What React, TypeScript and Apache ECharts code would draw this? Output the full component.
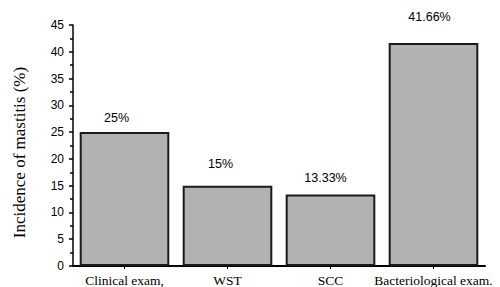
import React, { useEffect, useRef } from "react";
import * as echarts from "echarts";

const categories = ["Clinical exam,", "WST", "SCC", "Bacteriological exam."];
const values = [25, 15, 13.33, 41.66];
const valueLabels = ["25%", "15%", "13.33%", "41.66%"];
const yAxisTitle = "Incidence of mastitis (%)";
const yMin = 0;
const yMax = 45;
const yInterval = 5;

// label placement tweaks (style only)
const labelDistances = [8, 15, 10, 19];
const labelShiftX = [-8, -7, -5, -4];

const SERIF = "'Liberation Serif', 'Times New Roman', serif";
const SANS = "'Liberation Sans', Arial, sans-serif";

export default function App() {
  const ref = useRef<HTMLDivElement>(null);
  useEffect(() => {
    if (!ref.current) return;
    const chart = echarts.init(ref.current, undefined, { renderer: "svg" });
    chart.setOption({
      animation: false,
      backgroundColor: "#ffffff",
      grid: { left: 73, right: 15, top: 25, bottom: 18, containLabel: false },
      xAxis: {
        type: "category",
        data: categories,
        axisLine: { show: true, lineStyle: { color: "#000", width: 2 } },
        axisTick: { show: true, alignWithLabel: true, length: 3, lineStyle: { color: "#000" } },
        axisLabel: {
          color: "#000",
          fontFamily: SERIF,
          fontSize: 13.5,
          margin: 7,
          interval: 0,
        },
      },
      yAxis: {
        type: "value",
        min: yMin,
        max: yMax,
        interval: yInterval,
        name: yAxisTitle,
        nameLocation: "middle",
        nameGap: 45,
        nameTextStyle: {
          color: "#000",
          fontFamily: SERIF,
          fontSize: 17,
          padding: [0, 14, 0, 0],
        },
        axisLine: { show: true, lineStyle: { color: "#000", width: 1.5 } },
        axisTick: { show: true, length: 4, lineStyle: { color: "#000", width: 1.5 } },
        minorTick: { show: true, splitNumber: 2, length: 3, lineStyle: { color: "#000", width: 1.5 } },
        splitLine: { show: false },
        axisLabel: {
          color: "#000",
          fontFamily: SANS,
          fontSize: 12,
          margin: 9,
        },
      },
      series: [
        {
          type: "bar",
          barCategoryGap: "13%",
          data: values.map((v, i) => ({
            value: v,
            label: {
              show: true,
              position: "top",
              distance: labelDistances[i],
              offset: [labelShiftX[i], 0],
              formatter: valueLabels[i],
            },
          })),
          itemStyle: { color: "#b2b2b2", borderColor: "#1a1a1a", borderWidth: 2 },
          label: {
            show: true,
            color: "#000",
            fontFamily: SANS,
            fontSize: 12.5,
          },
        },
      ],
    });
    return () => chart.dispose();
  }, []);
  return (
    <div
      ref={ref}
      style={{ position: "fixed", left: 0, top: 0, width: 500, height: 287, background: "#fff" }}
    />
  );
}
